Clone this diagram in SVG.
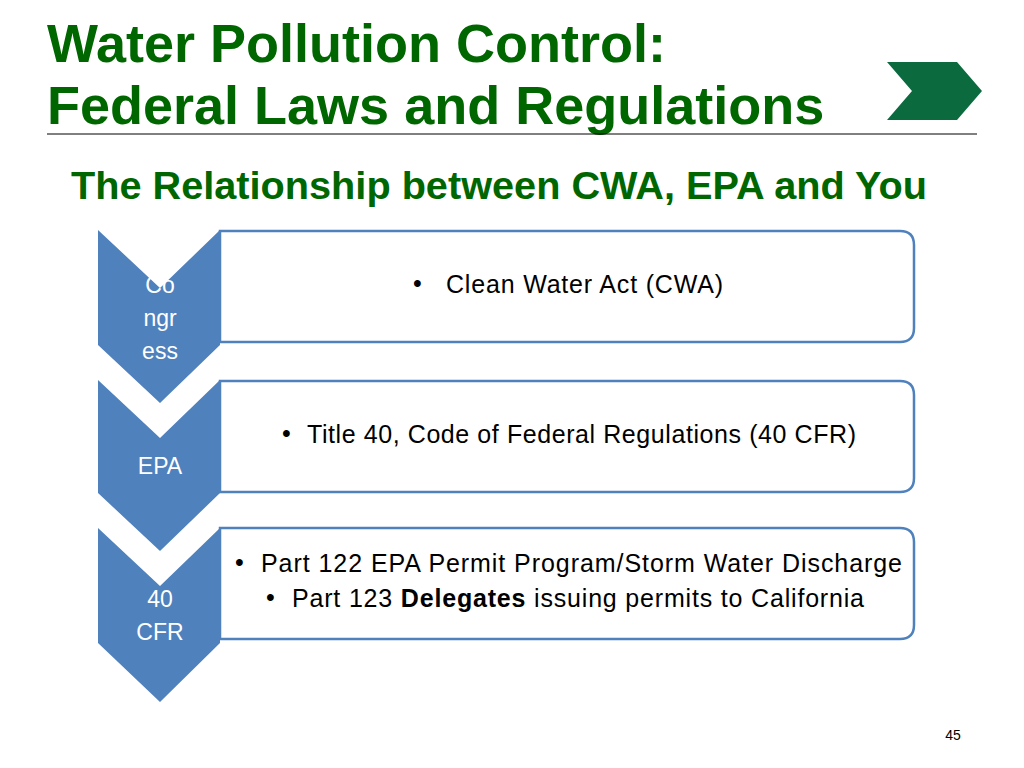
<svg xmlns="http://www.w3.org/2000/svg" width="1024" height="768" viewBox="0 0 1024 768">
<style>
.title{font-family:"Liberation Sans",Arial,sans-serif;font-weight:bold;fill:#006600;}
.chev{fill:#4f81bd;}
.box{fill:#ffffff;stroke:#4f81bd;stroke-width:2.5;}
.lbl{font-family:"Liberation Sans",Arial,sans-serif;font-size:23px;fill:#ffffff;text-anchor:middle;}
.body{font-family:"Liberation Sans",Arial,sans-serif;font-size:25px;fill:#000000;}
</style>
<rect width="1024" height="768" fill="#ffffff"/>
<g id="header">
<text class="title" x="47" y="62" font-size="54">Water Pollution Control:</text>
<text class="title" x="47" y="124" font-size="54">Federal Laws and Regulations</text>
<line x1="47" y1="134" x2="977" y2="134" stroke="#000000" stroke-width="1"/>
<polygon points="887,62 957,62 982,91 957,120 887,120 912,91" fill="#0b6b3e"/>
<text class="title" x="71" y="199" font-size="38" textLength="856" lengthAdjust="spacingAndGlyphs">The Relationship between CWA, EPA and You</text>
</g>
<g id="row1">
<path class="box" d="M220,231 H900 Q914,231 914,245 V328 Q914,342 900,342 H220 Z"/>
<polygon class="chev" points="98,230 160,288 220,230 220,345 160,403 98,345"/>
<text class="lbl" x="160" y="293">Co</text>
<text class="lbl" x="160" y="326">ngr</text>
<text class="lbl" x="160" y="359">ess</text>
<text class="body" x="413" y="292">•</text>
<text class="body" x="446" y="293" textLength="277">Clean Water Act (CWA)</text>
</g>
<g id="row2">
<path class="box" d="M220,381 H900 Q914,381 914,395 V478 Q914,492 900,492 H220 Z"/>
<polygon class="chev" points="98,380 160,438 220,380 220,493 160,551 98,493"/>
<text class="lbl" x="160" y="474">EPA</text>
<text class="body" x="282" y="442">•</text>
<text class="body" x="307" y="443" textLength="549">Title 40, Code of Federal Regulations (40 CFR)</text>
</g>
<g id="row3">
<path class="box" d="M220,528 H900 Q914,528 914,542 V625 Q914,639 900,639 H220 Z"/>
<polygon class="chev" points="98,528 160,586 220,528 220,643 160,702 98,643"/>
<text class="lbl" x="160" y="607">40</text>
<text class="lbl" x="160" y="640">CFR</text>
<text class="body" x="235" y="571">•</text>
<text class="body" x="261" y="572" textLength="641">Part 122 EPA Permit Program/Storm Water Discharge</text>
<text class="body" x="266" y="606">•</text>
<text class="body" x="292" y="607" textLength="572">Part 123 <tspan font-weight="bold">Delegates</tspan> issuing permits to California</text>
</g>
<g id="connectors"></g>
<text x="953" y="740" font-family="Liberation Sans,Arial,sans-serif" font-size="14" fill="#000000" text-anchor="middle">45</text>
</svg>
